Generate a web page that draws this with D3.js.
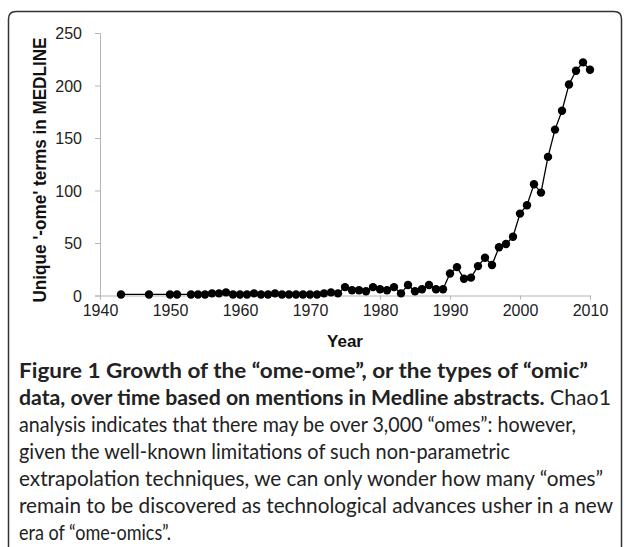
<!DOCTYPE html>
<html>
<head>
<meta charset="utf-8">
<script src="https://cdn.jsdelivr.net/npm/d3@7"></script>
<style>
html,body{margin:0;padding:0;background:#fff;}
svg{display:block;}
</style>
</head>
<body>
<svg id="chart" width="630" height="547"></svg>
<script>
const years = [1943,1947,1950,1951,1953,1954,1955,1956,1957,1958,1959,1960,1961,1962,1963,1964,1965,1966,1967,1968,1969,1970,1971,1972,1973,1974,1975,1976,1977,1978,1979,1980,1981,1982,1983,1984,1985,1986,1987,1988,1989,1990,1991,1992,1993,1994,1995,1996,1997,1998,1999,2000,2001,2002,2003,2004,2005,2006,2007,2008,2009,2010];
const counts = [1,1,1,1,1,1,1,2,2,3,1,1,1,2,1,1,2,1,1,1,1,1,1,2,3,2,8,5,5,4,8,6,5,8,2,10,4,6,10,6,6,21,27,16,17,28,36,29,46,49,56,78,86,106,98,132,158,176,201,214,222,215];
const xTicks = [1940,1950,1960,1970,1980,1990,2000,2010];
const yTicks = [0,50,100,150,200,250];
const yTitle = "Unique '-ome' terms in MEDLINE";
const xTitle = "Year";
const captionLines = [
  {parts:[{t:"Figure 1 Growth of the \u201come-ome\u201d, or the types of \u201comic\u201d",b:true}], len:569},
  {parts:[{t:"data, over time based on mentions in Medline abstracts.",b:true},{t:" Chao1",b:false}], len:592},
  {parts:[{t:"analysis indicates that there may be over 3,000 \u201comes\u201d: however,",b:false}], len:557},
  {parts:[{t:"given the well-known limitations of such non-parametric",b:false}], len:491},
  {parts:[{t:"extrapolation techniques, we can only wonder how many \u201comes\u201d",b:false}], len:584},
  {parts:[{t:"remain to be discovered as technological advances usher in a new",b:false}], len:594},
  {parts:[{t:"era of \u201come-omics\u201d.",b:false}], len:152}
];

const data = years.map((y,i)=>({year:y,value:counts[i]}));
const svg = d3.select("#chart");

// frame
svg.append("path")
  .attr("d","M8.5,547 L8.5,19 Q8.5,11.5 16,11.5 L614,11.5 Q621.5,11.5 621.5,19 L621.5,547")
  .attr("fill","none").attr("stroke","#333").attr("stroke-width",1.5);

const x = d3.scaleLinear().domain([1940,2010]).range([100,590]);
const y = d3.scaleLinear().domain([0,250]).range([295.5,33]);

const font = "'Liberation Sans', Arial, sans-serif";

// y axis
const yAxis = svg.append("g").attr("transform","translate(100,0)")
  .call(d3.axisLeft(y).tickValues(yTicks).tickSize(5).tickPadding(13));
yAxis.select(".domain").attr("stroke","#b5b5b5");
yAxis.selectAll(".tick line").attr("stroke","#b5b5b5");
yAxis.selectAll(".tick text").attr("font-family",font).attr("font-size",16).attr("fill","#222").attr("dy","0.36em");

// x axis
const xAxis = svg.append("g").attr("transform","translate(0,295.5)")
  .call(d3.axisBottom(x).tickValues(xTicks).tickFormat(d3.format("d")).tickSize(4).tickPadding(5));
xAxis.select(".domain").attr("stroke","#b5b5b5");
xAxis.selectAll(".tick line").attr("stroke","#b5b5b5");
xAxis.selectAll(".tick text").attr("font-family",font).attr("font-size",16).attr("fill","#222");

// titles
svg.append("text").attr("transform","translate(46,170) rotate(-90)")
  .attr("text-anchor","middle").attr("font-family",font).attr("font-weight","bold")
  .attr("font-size",17.5).attr("fill","#111")
  .attr("textLength",265).attr("lengthAdjust","spacingAndGlyphs").text(yTitle);
svg.append("text").attr("x",345).attr("y",347)
  .attr("text-anchor","middle").attr("font-family",font).attr("font-weight","bold")
  .attr("font-size",17).attr("fill","#111").text(xTitle);

// line
const line = d3.line().x(d=>x(d.year)).y(d=>y(d.value));
svg.append("path").datum(data).attr("d",line)
  .attr("fill","none").attr("stroke","#000").attr("stroke-width",1.3);
svg.append("g").selectAll("circle").data(data).join("circle")
  .attr("cx",d=>x(d.year)).attr("cy",d=>y(d.value)).attr("r",4.2).attr("fill","#000");

// caption
const capFont = "Lato, 'Noto Sans', sans-serif";
captionLines.forEach((ln,i)=>{
  const t = svg.append("text").attr("x",19).attr("y",378+i*27)
    .attr("font-family",capFont).attr("font-size",20.5).attr("fill","#222");
  if (ln.len) t.attr("textLength",ln.len).attr("lengthAdjust","spacingAndGlyphs");
  ln.parts.forEach(p=>{
    t.append("tspan").attr("font-weight",p.b?"bold":"normal").text(p.t);
  });
});
</script>
</body>
</html>
